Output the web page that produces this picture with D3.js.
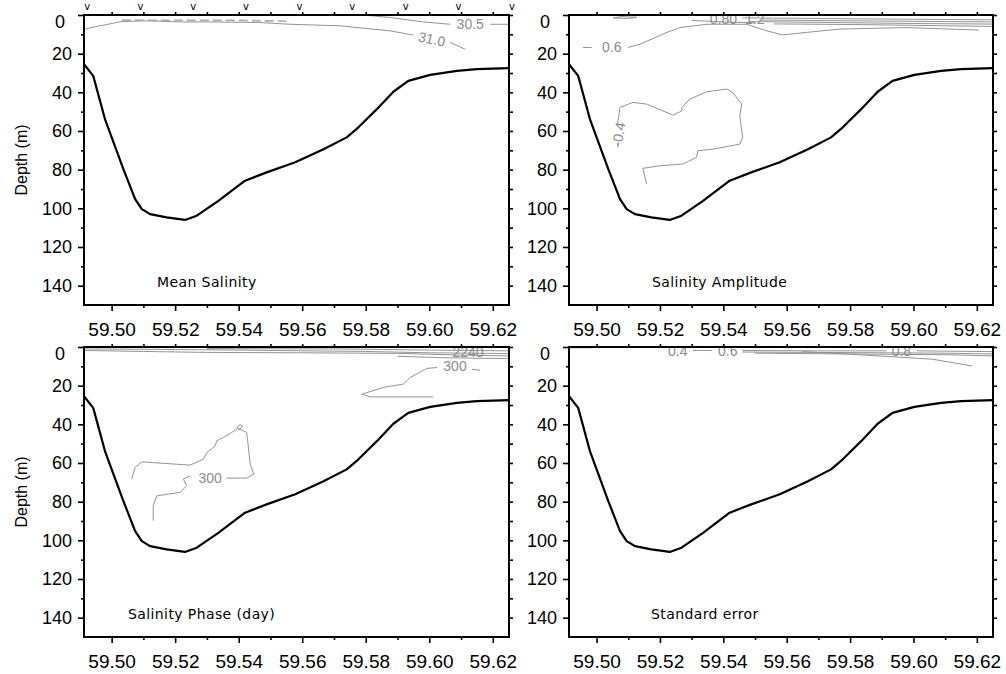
<!DOCTYPE html>
<html>
<head>
<meta charset="utf-8">
<script src="https://cdn.jsdelivr.net/npm/d3@7"></script>
<style>
  body { margin: 0; background: #fff; }
  svg { font-family: "Liberation Sans", Arial, sans-serif; }
</style>
</head>
<body>
<svg id="chart" width="1006" height="674"></svg>
<script>
// axis ticks
const xTickLabels = ["59.50", "59.52", "59.54", "59.56", "59.58", "59.60", "59.62"];
const xMinorTicks = [59.51, 59.53, 59.55, 59.57, 59.59, 59.61];
const yTicks = [0, 20, 40, 60, 80, 100, 120, 140];
const yMinorTicks = [10, 30, 50, 70, 90, 110, 130];
const lonDomain = [59.4913, 59.6251];
const depthDomain = [0, 150];

// CTD stations (top marks)
const stations = [59.4923, 59.5091, 59.5257, 59.5423, 59.5591, 59.5757, 59.5926, 59.6092, 59.626];

// bottom topography
const bottomLon = [59.4913, 59.4942, 59.4979, 59.5037, 59.5074, 59.5095, 59.5121, 59.5173, 59.5231, 59.5268,
  59.5336, 59.5420, 59.5488, 59.5578, 59.5667, 59.5740, 59.5777, 59.5835, 59.5887, 59.5934,
  59.6003, 59.6087, 59.6150, 59.6251];
const bottomDepth = [25.4, 31.5, 53.8, 79.7, 95.2, 100.4, 103.0, 104.7, 106.0, 103.8,
  96.1, 85.7, 81.4, 76.2, 69.4, 63.3, 58.1, 48.7, 39.7, 34.1,
  31.0, 28.9, 28.0, 27.5];

// contour lines [lon, depth]
const meanLines = [
  [[59.4916, 7.3], [59.4963, 5.6], [59.5032, 3.4], [59.5110, 3.0], [59.5215, 3.6], [59.5319, 3.6], [59.5467, 3.9],
   [59.5562, 4.8], [59.5719, 5.6], [59.5877, 8.2], [59.5950, 10.4]],
  [[59.6066, 14.2], [59.6113, 17.7]],
  [[59.5793, 0], [59.5877, 1.3], [59.5982, 3.6], [59.6066, 4.8]],
  [[59.6192, 4.8], [59.6251, 4.8]]
];
const meanDashed = [
  [[59.5032, 2.6], [59.5200, 2.8], [59.5400, 2.8], [59.5550, 3.2]]
];
const meanLabels = [[59.6008, 12.5, "31.0"], [59.6129, 4.8, "30.5"]];

const ampLines = [
  [[59.4957, 16.8], [59.4985, 16.8]],
  [[59.5099, 16.8], [59.5137, 15.1], [59.5222, 9.0], [59.5263, 6.5], [59.5348, 4.8], [59.5474, 4.8], [59.5537, 8.2],
   [59.5587, 10.3], [59.5663, 9.0], [59.5767, 7.3], [59.5978, 6.5], [59.6207, 7.8]],
  [[59.5052, 1.5], [59.5080, 0.8], [59.5127, 1.2], [59.5100, 1.8], [59.5052, 1.5]],
  [[59.5460, 1.5], [59.5700, 1.8], [59.6000, 2.2], [59.6251, 2.5]],
  [[59.5520, 2.6], [59.5800, 3.0], [59.6100, 3.4], [59.6251, 3.6]],
  [[59.5480, 3.4], [59.5750, 3.9], [59.6000, 4.4], [59.6251, 4.7]],
  [[59.5560, 4.6], [59.5850, 5.0], [59.6100, 5.6], [59.6251, 5.9]],
  [[59.5300, 2.8], [59.5400, 3.6], [59.5500, 4.0]],
  [[59.5158, 87.4], [59.5146, 79.3], [59.5200, 78.0], [59.5272, 77.1], [59.5316, 73.6], [59.5319, 70.2], [59.5367, 69.4],
   [59.5452, 66.8], [59.5461, 63.3], [59.5452, 52.1], [59.5458, 46.1], [59.5430, 40.1], [59.5411, 38.3], [59.5348, 39.7],
   [59.5294, 43.5], [59.5269, 47.8], [59.5269, 49.6], [59.5241, 51.8], [59.5209, 49.6], [59.5159, 46.1], [59.5115, 45.2],
   [59.5074, 47.8], [59.5067, 55.6], [59.5067, 57.3]],
  [[59.5067, 66.3], [59.5067, 68.5]]
];
const ampLabels = [[59.5048, 16.8, "0.6"], [59.5400, 2.2, "0.80"], [59.5499, 2.0, "1.2"], [59.5070, 61.8, "-0.4"]];

const phaseLines = [
  [[59.4913, 1.0], [59.5200, 1.3], [59.5500, 1.8], [59.5800, 2.3], [59.6000, 3.0], [59.6251, 3.4]],
  [[59.4913, 1.8], [59.5100, 2.3], [59.5300, 2.8], [59.5600, 3.0], [59.5900, 3.3], [59.6100, 4.2], [59.6251, 4.6]],
  [[59.5300, 0.8], [59.5700, 1.0], [59.6000, 1.6], [59.6251, 2.0]],
  [[59.5900, 4.8], [59.6050, 5.6], [59.6251, 6.0]],
  [[59.6024, 10.6], [59.5992, 11.1], [59.5940, 15.8], [59.5918, 19.2], [59.5855, 20.9], [59.5788, 24.4], [59.5814, 25.8], [59.6013, 25.8]],
  [[59.6134, 11.5], [59.6160, 12.0]],
  [[59.5063, 68.3], [59.5074, 62.3], [59.5095, 59.4], [59.5247, 61.1], [59.5289, 58.0], [59.5300, 54.5], [59.5326, 51.1],
   [59.5331, 48.5], [59.5362, 45.9], [59.5394, 42.5], [59.5398, 41.0], [59.5404, 40.2], [59.5412, 40.8], [59.5408, 42.0],
   [59.5398, 42.5], [59.5410, 43.0], [59.5425, 44.2], [59.5430, 51.1], [59.5436, 60.6], [59.5448, 65.7], [59.5425, 67.8],
   [59.5362, 67.8]],
  [[59.5247, 66.6], [59.5226, 68.3], [59.5236, 71.8], [59.5215, 75.2], [59.5142, 77.0], [59.5131, 82.1], [59.5131, 89.9]]
];
const phaseLabels = [[59.6081, 9.8, "300"], [59.6122, 2.7, "2240"], [59.5310, 67.8, "300"]];

const errLines = [
  [[59.4916, 0.4], [59.4988, 0.4]],
  [[59.5303, 1.8], [59.5365, 1.8]],
  [[59.5460, 1.8], [59.5700, 2.0], [59.5915, 2.0]],
  [[59.6010, 2.0], [59.6251, 2.4]],
  [[59.5460, 2.6], [59.5800, 2.9], [59.6100, 3.2], [59.6251, 3.6]],
  [[59.5500, 3.2], [59.5800, 3.6], [59.6100, 4.0], [59.6251, 4.6]],
  [[59.5650, 2.4], [59.5798, 3.7], [59.6059, 6.3], [59.6185, 9.8]]
];
const errLabels = [[59.5256, 2.0, "0.4"], [59.5414, 2.0, "0.6"], [59.5962, 2.0, "0.8"]];

const panelTitles = ["Mean Salinity", "Salinity Amplitude", "Salinity Phase (day)", "Standard error"];

const labelAngle = { "31.0": 12, "-0.4": -80 };

const panels = [
  { left: 84, right: 509, top: 15, bottom: 305, lines: meanLines, dashed: meanDashed, labels: meanLabels, ylab: true, stations: true, titleX: 157 },
  { left: 569, right: 993, top: 15, bottom: 305, lines: ampLines, dashed: [], labels: ampLabels, ylab: false, stations: false, titleX: 652 },
  { left: 84, right: 509, top: 347, bottom: 637, lines: phaseLines, dashed: [], labels: phaseLabels, ylab: true, stations: false, titleX: 128 },
  { left: 569, right: 993, top: 347, bottom: 637, lines: errLines, dashed: [], labels: errLabels, ylab: false, stations: false, titleX: 651 }
];

const svg = d3.select("#chart");
const font = "Liberation Sans, Arial, sans-serif";
const bottomPts = bottomLon.map((v, i) => [v, bottomDepth[i]]);

panels.forEach((p, i) => {
  const x = d3.scaleLinear().domain(lonDomain).range([p.left, p.right]);
  const y = d3.scaleLinear().domain(depthDomain).range([p.top, p.bottom]);
  const line = d3.line().x((d) => x(d[0])).y((d) => y(d[1]));
  const g = svg.append("g");

  const clipId = "clip" + i;
  svg.append("clipPath").attr("id", clipId)
    .append("rect")
    .attr("x", p.left).attr("y", p.top)
    .attr("width", p.right - p.left).attr("height", p.bottom - p.top);

  const plot = g.append("g").attr("clip-path", `url(#${clipId})`);

  // contours
  plot.selectAll("path.contour")
    .data(p.lines)
    .join("path")
    .attr("class", "contour")
    .attr("d", line)
    .attr("fill", "none")
    .attr("stroke", "#939393")
    .attr("stroke-width", 1);

  plot.selectAll("path.dashed")
    .data(p.dashed)
    .join("path")
    .attr("class", "dashed")
    .attr("d", line)
    .attr("fill", "none")
    .attr("stroke", "#aaa")
    .attr("stroke-width", 1.6)
    .attr("stroke-dasharray", "9,4");

  plot.selectAll("text.clabel")
    .data(p.labels)
    .join("text")
    .attr("class", "clabel")
    .attr("transform", (d) => `translate(${x(d[0])},${y(d[1])}) rotate(${labelAngle[d[2]] || 0})`)
    .attr("text-anchor", "middle")
    .attr("dy", "0.35em")
    .attr("font-size", 14)
    .attr("fill", "#8c8c8c")
    .text((d) => d[2]);

  // bottom
  plot.append("path")
    .datum(bottomPts)
    .attr("d", line)
    .attr("fill", "none")
    .attr("stroke", "#000")
    .attr("stroke-width", 2.2)
    .attr("stroke-linejoin", "round");

  // axes
  const styleAxis = (a) => {
    a.select(".domain").remove();
    a.selectAll(".tick line").attr("stroke", "#000").attr("stroke-width", 1.6);
    a.attr("font-family", font).attr("fill", "#000");
  };

  g.append("g")
    .attr("transform", `translate(${p.left},0)`)
    .call(d3.axisLeft(y).tickValues(yTicks).tickSize(6).tickPadding(6).tickFormat(d3.format("d")))
    .call(styleAxis)
    .attr("font-size", 18)
    .call((a) => a.selectAll(".tick").filter((d) => d === 0).select("text").attr("x", -19).attr("dy", "0.7em"));

  g.append("g")
    .attr("transform", `translate(${p.left},0)`)
    .call(d3.axisLeft(y).tickValues(yMinorTicks).tickSize(3).tickFormat(""))
    .call(styleAxis);

  g.append("g")
    .attr("transform", `translate(${p.right},0)`)
    .call(d3.axisRight(y).tickValues(yTicks.concat(yMinorTicks)).tickSize(4).tickFormat(""))
    .call(styleAxis);

  const xTicks = xTickLabels.map(Number);
  g.append("g")
    .attr("transform", `translate(0,${p.bottom})`)
    .call(d3.axisBottom(x).tickValues(xTicks).tickSize(6).tickPadding(12).tickFormat((d, k) => xTickLabels[k]))
    .call(styleAxis)
    .attr("font-size", 19);

  g.append("g")
    .attr("transform", `translate(0,${p.bottom})`)
    .call(d3.axisBottom(x).tickValues(xMinorTicks).tickSize(3).tickFormat(""))
    .call(styleAxis);

  g.append("g")
    .attr("transform", `translate(0,${p.top})`)
    .call(d3.axisTop(x).tickValues(xTicks.concat(xMinorTicks)).tickSize(3).tickFormat(""))
    .call(styleAxis);

  // frame
  g.append("rect")
    .attr("x", p.left).attr("y", p.top)
    .attr("width", p.right - p.left).attr("height", p.bottom - p.top)
    .attr("fill", "none")
    .attr("stroke", "#000")
    .attr("stroke-width", 2);

  if (p.stations) {
    g.selectAll("text.station")
      .data(stations)
      .join("text")
      .attr("class", "station")
      .attr("x", (d) => x(d))
      .attr("y", p.top - 5)
      .attr("text-anchor", "middle")
      .attr("font-size", 10)
      .attr("font-family", "DejaVu Sans, sans-serif")
      .text("v");
  }

  if (p.ylab) {
    g.append("text")
      .attr("transform", `translate(27,${(p.top + p.bottom) / 2}) rotate(-90)`)
      .attr("text-anchor", "middle")
      .attr("font-size", 16)
      .text("Depth (m)");
  }

  g.append("text")
    .attr("x", p.titleX)
    .attr("y", p.bottom - 18)
    .attr("font-family", "DejaVu Sans, sans-serif")
    .attr("font-size", 14)
    .attr("letter-spacing", 0.4)
    .text(panelTitles[i]);
});
</script>
</body>
</html>
